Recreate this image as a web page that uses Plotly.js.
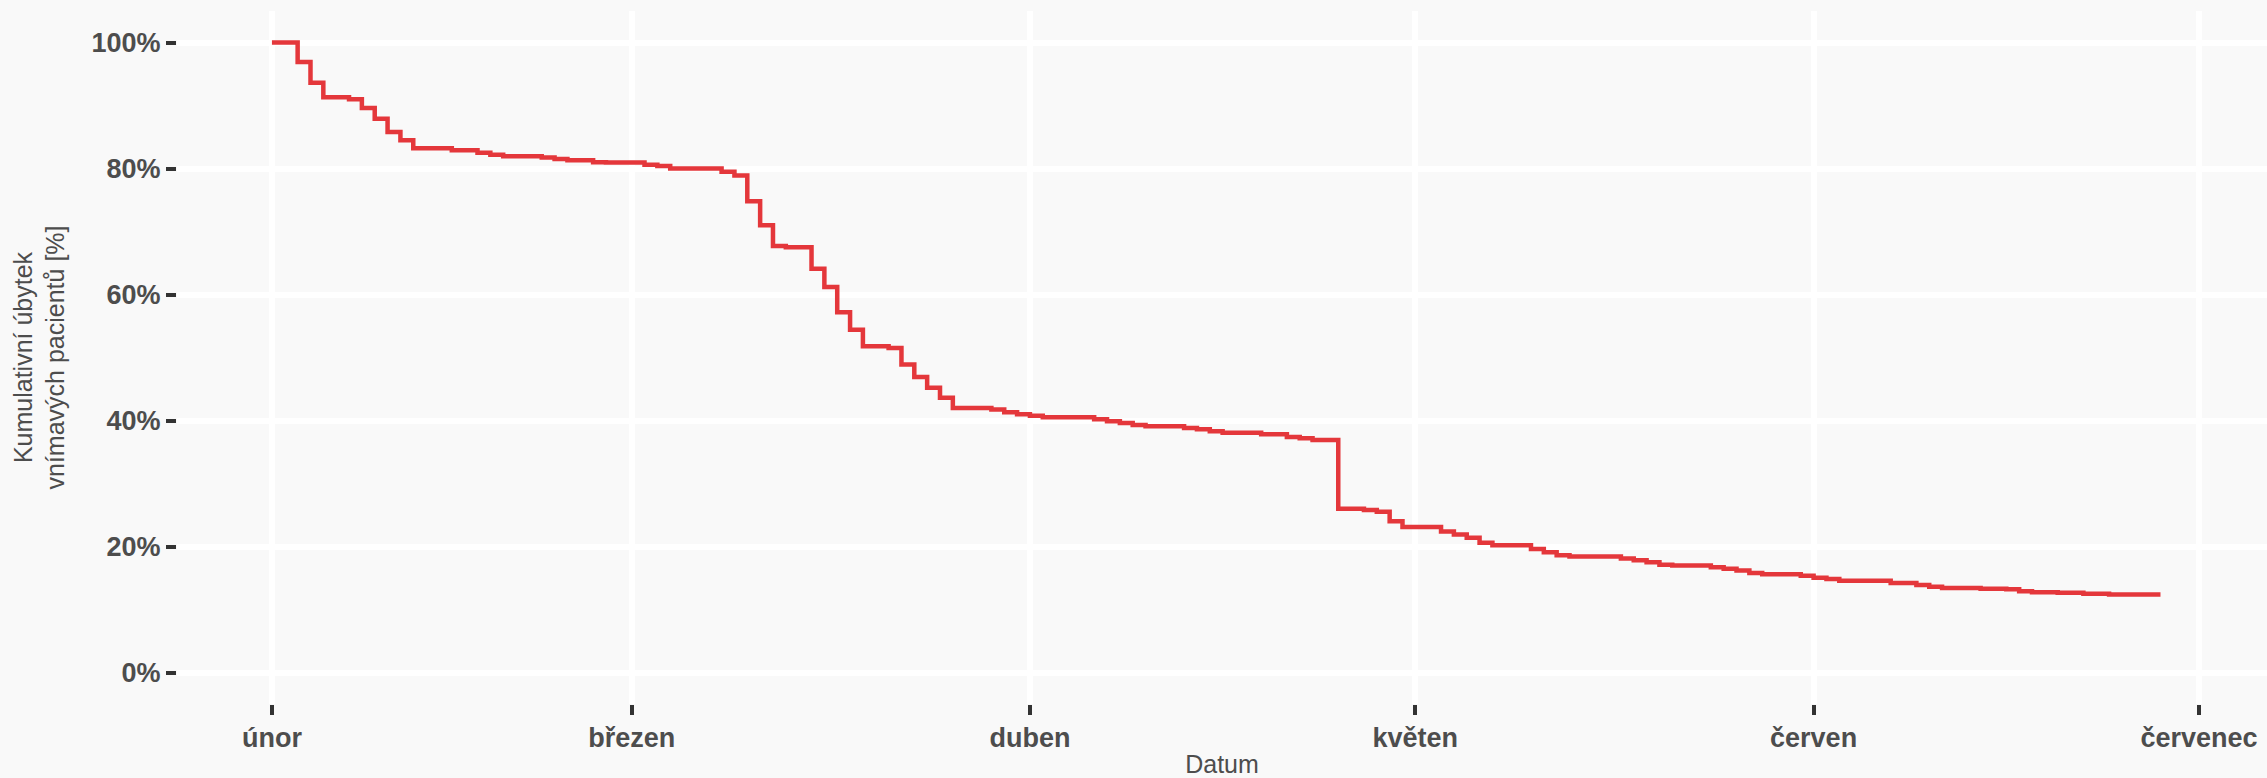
<!DOCTYPE html>
<html>
<head>
<meta charset="utf-8">
<script src="https://cdn.plot.ly/plotly-3.0.1.min.js"></script>
<style>
  html, body { margin: 0; padding: 0; background: #f9f9f9; }
  #chart { width: 2267px; height: 778px; }
</style>
</head>
<body>
<div id="chart"></div>
<script>
// Dates (2021) at which the cumulative curve steps, and the value after each step [%]
const stepDates = [
  '2021-02-01','2021-02-03','2021-02-04','2021-02-05','2021-02-07','2021-02-08','2021-02-09','2021-02-10',
  '2021-02-11','2021-02-12','2021-02-15','2021-02-17','2021-02-18','2021-02-19','2021-02-22','2021-02-23',
  '2021-02-24','2021-02-26','2021-02-27','2021-03-02','2021-03-03','2021-03-04','2021-03-08','2021-03-09',
  '2021-03-10','2021-03-11','2021-03-12','2021-03-13','2021-03-15','2021-03-16','2021-03-17','2021-03-18',
  '2021-03-19','2021-03-21','2021-03-22','2021-03-23','2021-03-24','2021-03-25','2021-03-26','2021-03-29',
  '2021-03-30','2021-03-31','2021-04-01','2021-04-02','2021-04-06','2021-04-07','2021-04-08','2021-04-09',
  '2021-04-10','2021-04-13','2021-04-14','2021-04-15','2021-04-16','2021-04-19','2021-04-21','2021-04-22',
  '2021-04-23','2021-04-25','2021-04-27','2021-04-28','2021-04-29','2021-04-30','2021-05-03','2021-05-04',
  '2021-05-05','2021-05-06','2021-05-07','2021-05-10','2021-05-11','2021-05-12','2021-05-13','2021-05-17',
  '2021-05-18','2021-05-19','2021-05-20','2021-05-21','2021-05-24','2021-05-25','2021-05-26','2021-05-27',
  '2021-05-28','2021-05-31','2021-06-01','2021-06-02','2021-06-03','2021-06-07','2021-06-09','2021-06-10',
  '2021-06-11','2021-06-14','2021-06-16','2021-06-17','2021-06-18','2021-06-20','2021-06-22','2021-06-24',
  '2021-06-28'
];
const remainingPct = [
  100, 96.9, 93.6, 91.3, 91.0, 89.6, 87.9, 85.8,
  84.5, 83.2, 82.9, 82.5, 82.2, 81.95, 81.75, 81.5,
  81.3, 81.0, 80.95, 80.6, 80.4, 80.0, 79.5, 78.9,
  74.8, 71.0, 67.7, 67.5, 64.1, 61.2, 57.2, 54.4,
  51.8, 51.5, 48.9, 46.9, 45.2, 43.6, 42.0, 41.75,
  41.3, 41.0, 40.75, 40.5, 40.2, 39.9, 39.6, 39.3,
  39.1, 38.8, 38.6, 38.3, 38.05, 37.8, 37.4, 37.2,
  36.9, 26.0, 25.8, 25.5, 24.0, 23.1, 22.4, 21.9,
  21.4, 20.6, 20.2, 19.6, 19.1, 18.6, 18.4, 18.1,
  17.8, 17.5, 17.1, 17.0, 16.7, 16.45, 16.2, 15.8,
  15.6, 15.35, 15.05, 14.85, 14.55, 14.2, 13.9, 13.6,
  13.4, 13.3, 13.2, 12.9, 12.75, 12.65, 12.5, 12.4,
  12.4
];
const monthTickDates = ['2021-02-01','2021-03-01','2021-04-01','2021-05-01','2021-06-01','2021-07-01'];
const monthTickLabels = ['únor','březen','duben','květen','červen','červenec'];
const pctTickVals = [0, 20, 40, 60, 80, 100];
const pctTickLabels = ['0%', '20%', '40%', '60%', '80%', '100%'];

const trace = {
  x: stepDates,
  y: remainingPct,
  type: 'scatter',
  mode: 'lines',
  line: { shape: 'hv', color: '#e4373b', width: 4.5 },
  hoverinfo: 'x+y'
};

const layout = {
  width: 2267,
  height: 778,
  margin: { l: 177, r: 0, t: 11, b: 74, pad: 0 },
  paper_bgcolor: '#f9f9f9',
  plot_bgcolor: '#f9f9f9',
  showlegend: false,
  font: { family: 'Liberation Sans, Arial, sans-serif', color: '#4d4d4d' },
  xaxis: {
    type: 'date',
    range: ['2021-01-24 14:38', '2021-07-06 07:00'],
    tickmode: 'array',
    tickvals: monthTickDates,
    ticktext: monthTickLabels,
    ticks: 'outside',
    ticklen: 10,
    tickwidth: 4,
    tickcolor: '#333333',
    tickfont: { family: 'Liberation Sans, Arial, sans-serif', size: 27, color: '#4d4d4d', weight: 'bold' },
    showgrid: true,
    gridcolor: '#ffffff',
    gridwidth: 6,
    zeroline: false,
    showline: false,
    fixedrange: true,
    title: { text: 'Datum', font: { size: 25, color: '#4d4d4d' }, standoff: 16 }
  },
  yaxis: {
    range: [-5, 105],
    tickmode: 'array',
    tickvals: pctTickVals,
    ticktext: pctTickLabels,
    ticks: 'outside',
    ticklen: 10,
    tickwidth: 4,
    tickcolor: '#333333',
    tickfont: { family: 'Liberation Sans, Arial, sans-serif', size: 27, color: '#4d4d4d', weight: 'bold' },
    showgrid: true,
    gridcolor: '#ffffff',
    gridwidth: 6,
    zeroline: false,
    showline: false,
    fixedrange: true,
    title: { text: 'Kumulativní úbytek<br>vnímavých pacientů [%]', font: { size: 25, color: '#4d4d4d' }, standoff: 19 }
  }
};

Plotly.newPlot('chart', [trace], layout, { displayModeBar: false, staticPlot: true });
</script>
</body>
</html>
